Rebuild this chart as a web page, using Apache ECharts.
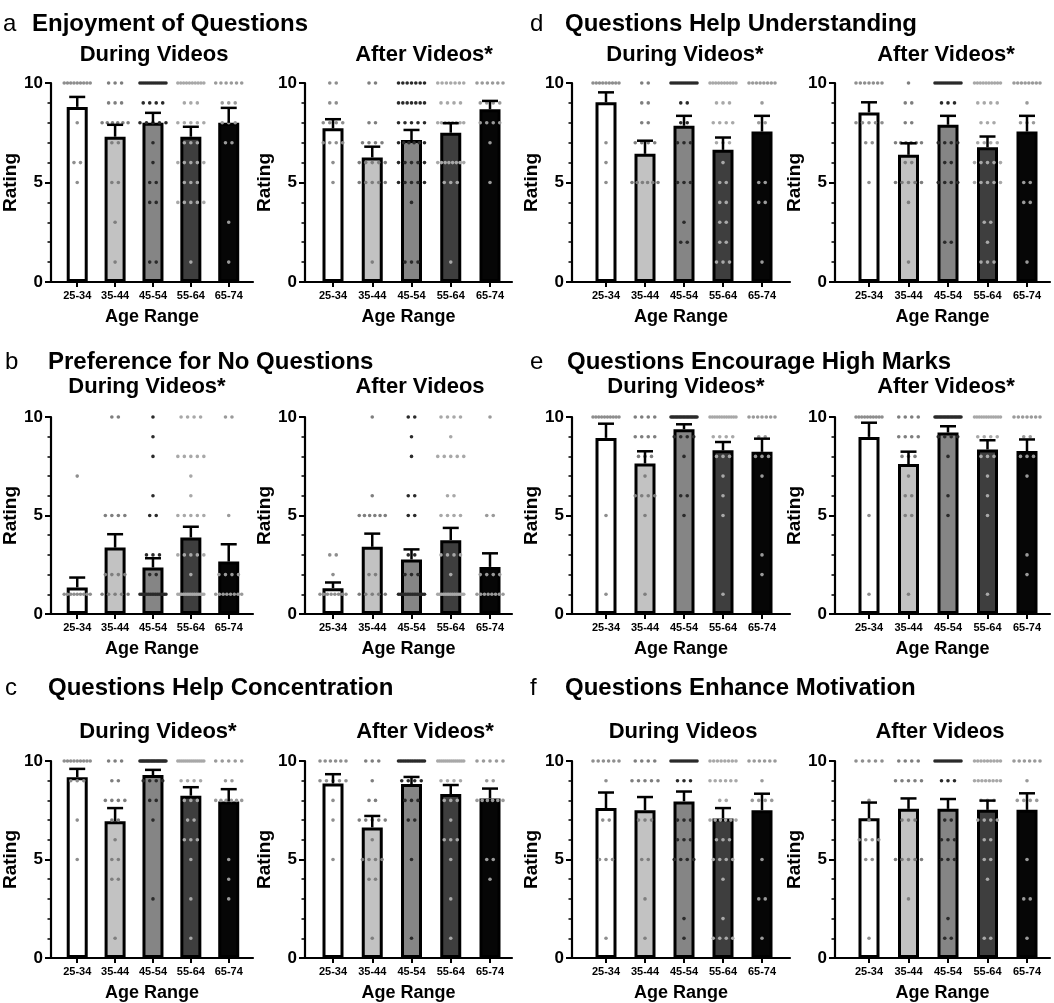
<!DOCTYPE html>
<html>
<head>
<meta charset="utf-8">
<script src="https://cdn.jsdelivr.net/npm/echarts@6/dist/echarts.min.js"></script>
<style>
  html, body { margin: 0; padding: 0; background: #fff; }
  #chart { width: 1054px; height: 1003px; }
</style>
</head>
<body>
<div id="chart"></div>
<script>
// ---- data: mean rating, SEM and individual responses ([rating, count]) per age group ----
const ageGroups = ['25-34', '35-44', '45-54', '55-64', '65-74'];

// a: Enjoyment of Questions
const enjoyDuringMean = [8.8, 7.3, 8.0, 7.3, 8.0];
const enjoyDuringSem = [0.5, 0.6, 0.5, 0.5, 0.75];
const enjoyDuringDots = [
  [[10, 9], [8, 1], [6, 2], [5, 1]],
  [[10, 3], [9, 3], [8, 6], [7, 2], [5, 2], [3, 1], [1, 1]],
  [[10, 14], [9, 4], [8, 5], [7, 1], [6, 1], [5, 2], [4, 2], [1, 2]],
  [[10, 10], [9, 3], [8, 5], [7, 3], [6, 5], [5, 3], [4, 5], [1, 1]],
  [[10, 6], [9, 3], [8, 3], [7, 2], [3, 1], [1, 1]]
];
const enjoyAfterMean = [7.72, 6.26, 7.13, 7.5, 8.68];
const enjoyAfterSem = [0.46, 0.54, 0.51, 0.48, 0.42];
const enjoyAfterDots = [
  [[10, 2], [9, 2], [8, 4], [7, 4], [6, 1], [5, 1]],
  [[10, 2], [8, 2], [7, 4], [6, 5], [5, 5], [1, 1]],
  [[10, 7], [9, 7], [8, 5], [7, 6], [6, 5], [5, 5], [4, 1], [1, 3]],
  [[10, 7], [9, 4], [8, 8], [6, 8], [5, 3], [1, 1]],
  [[10, 6], [9, 4], [8, 4], [7, 1], [5, 1]]
];

// b: Preference for No Questions
const prefNoQDuringMean = [1.35, 3.37, 2.36, 3.88, 2.66];
const prefNoQDuringSem = [0.5, 0.68, 0.47, 0.55, 0.88];
const prefNoQDuringDots = [
  [[7, 1], [1, 9]],
  [[10, 2], [5, 4], [2, 4], [1, 5]],
  [[10, 1], [9, 1], [8, 1], [6, 1], [5, 2], [3, 3], [2, 2], [1, 16]],
  [[10, 4], [8, 5], [7, 1], [6, 1], [5, 5], [3, 5], [2, 1], [1, 15]],
  [[10, 2], [5, 1], [2, 4], [1, 8]]
];
const prefNoQAfterMean = [1.31, 3.41, 2.77, 3.75, 2.39];
const prefNoQAfterSem = [0.29, 0.67, 0.51, 0.62, 0.69];
const prefNoQAfterDots = [
  [[3, 2], [2, 1], [1, 8]],
  [[10, 1], [6, 1], [5, 6], [2, 2], [1, 5]],
  [[10, 2], [9, 1], [8, 1], [6, 2], [5, 2], [3, 2], [2, 3], [1, 16]],
  [[10, 4], [9, 1], [8, 5], [6, 2], [5, 4], [3, 4], [2, 1], [1, 15]],
  [[10, 1], [5, 2], [2, 4], [1, 8]]
];

// c: Questions Help Concentration
const concentrationDuringMean = [9.18, 6.94, 9.29, 8.24, 7.95];
const concentrationDuringSem = [0.42, 0.67, 0.26, 0.43, 0.62];
const concentrationDuringDots = [
  [[10, 9], [9, 3], [7, 1], [5, 1]],
  [[10, 3], [9, 2], [8, 4], [7, 2], [6, 1], [5, 2], [4, 2], [1, 1]],
  [[10, 22], [9, 4], [8, 2], [7, 1], [3, 1]],
  [[10, 14], [9, 4], [8, 3], [7, 2], [6, 3], [5, 1], [3, 1], [1, 1]],
  [[10, 5], [9, 2], [8, 6], [5, 1], [4, 1], [3, 1]]
];
const concentrationAfterMean = [8.86, 6.63, 8.83, 8.32, 8.1];
const concentrationAfterSem = [0.47, 0.58, 0.36, 0.46, 0.5];
const concentrationAfterDots = [
  [[10, 6], [9, 5], [8, 1], [7, 1], [5, 1]],
  [[10, 3], [9, 1], [8, 2], [7, 5], [6, 1], [5, 4], [4, 2], [1, 1]],
  [[10, 16], [9, 4], [8, 3], [7, 2], [5, 1], [1, 1]],
  [[10, 14], [9, 4], [8, 3], [7, 1], [6, 3], [5, 1], [3, 1], [1, 1]],
  [[10, 5], [9, 2], [8, 6], [5, 2], [4, 1]]
];

// d: Questions Help Understanding
const understandingDuringMean = [9.03, 6.44, 7.85, 6.64, 7.56];
const understandingDuringSem = [0.5, 0.66, 0.5, 0.62, 0.79];
const understandingDuringDots = [
  [[10, 9], [7, 1], [6, 1], [5, 1]],
  [[10, 2], [9, 2], [8, 2], [7, 4], [5, 6]],
  [[10, 14], [9, 2], [8, 2], [7, 3], [5, 3], [3, 1], [2, 2]],
  [[10, 10], [9, 3], [8, 4], [7, 3], [6, 1], [5, 2], [4, 2], [3, 2], [2, 2], [1, 3]],
  [[10, 8], [9, 1], [8, 2], [5, 2], [4, 2], [1, 1]]
];
const understandingAfterMean = [8.52, 6.39, 7.9, 6.77, 7.56];
const understandingAfterSem = [0.51, 0.58, 0.45, 0.54, 0.79];
const understandingAfterDots = [
  [[10, 7], [8, 5], [7, 2], [5, 1]],
  [[10, 1], [9, 2], [8, 2], [7, 6], [6, 2], [5, 5], [4, 1], [1, 1]],
  [[10, 14], [9, 3], [7, 4], [6, 2], [5, 4], [2, 2]],
  [[10, 10], [9, 4], [8, 3], [7, 4], [6, 5], [5, 5], [3, 2], [2, 1], [1, 3]],
  [[10, 8], [9, 1], [8, 3], [5, 2], [4, 2], [1, 1]]
];

// e: Questions Encourage High Marks
const highMarksDuringMean = [8.94, 7.64, 9.38, 8.31, 8.23];
const highMarksDuringSem = [0.72, 0.62, 0.25, 0.42, 0.67];
const highMarksDuringDots = [
  [[10, 10], [5, 1], [1, 1]],
  [[10, 4], [9, 4], [8, 3], [7, 1], [6, 4], [5, 1], [1, 1]],
  [[10, 20], [9, 4], [8, 1], [6, 2], [5, 1]],
  [[10, 12], [9, 4], [8, 3], [7, 1], [6, 1], [5, 1], [1, 1]],
  [[10, 7], [9, 2], [8, 3], [7, 1], [3, 1], [2, 1]]
];
const highMarksAfterMean = [8.99, 7.61, 9.21, 8.35, 8.27];
const highMarksAfterSem = [0.72, 0.63, 0.32, 0.47, 0.59];
const highMarksAfterDots = [
  [[10, 10], [5, 1], [1, 1]],
  [[10, 4], [9, 4], [8, 3], [7, 1], [6, 2], [5, 2], [1, 1]],
  [[10, 20], [9, 4], [8, 1], [6, 1], [5, 1]],
  [[10, 12], [9, 4], [8, 3], [7, 1], [6, 1], [5, 1], [1, 1]],
  [[10, 7], [9, 2], [8, 3], [7, 1], [3, 1], [2, 1]]
];

// f: Questions Enhance Motivation
const motivationDuringMean = [7.61, 7.5, 7.95, 7.08, 7.5];
const motivationDuringSem = [0.79, 0.67, 0.5, 0.53, 0.84];
const motivationDuringDots = [
  [[10, 6], [9, 1], [7, 2], [5, 3], [1, 1]],
  [[10, 4], [9, 5], [7, 3], [5, 2], [3, 1], [1, 1]],
  [[10, 14], [9, 3], [7, 3], [6, 3], [5, 4], [2, 1], [1, 1]],
  [[10, 8], [9, 6], [8, 2], [7, 6], [6, 3], [5, 4], [4, 1], [2, 1], [1, 4]],
  [[10, 6], [9, 1], [8, 4], [5, 1], [3, 2], [1, 1]]
];
const motivationAfterMean = [7.1, 7.57, 7.57, 7.52, 7.52];
const motivationAfterSem = [0.79, 0.53, 0.5, 0.47, 0.84];
const motivationAfterDots = [
  [[10, 5], [8, 1], [7, 1], [6, 4], [5, 2], [1, 1]],
  [[10, 4], [9, 5], [7, 3], [5, 5], [3, 1]],
  [[10, 14], [9, 3], [7, 2], [6, 3], [5, 3], [2, 1], [1, 2]],
  [[10, 9], [9, 8], [8, 3], [7, 4], [6, 2], [5, 2], [4, 1], [1, 2]],
  [[10, 6], [9, 1], [8, 4], [5, 1], [3, 2], [1, 1]]
];

const ratingTicks = [0, 5, 10];

// ---- styling ----
const FONT = '"Liberation Sans", Arial, Helvetica, sans-serif';
const barFills = ['#ffffff', '#c2c2c2', '#858585', '#3e3e3e', '#060606'];
const dotFills = ['#8e8e8e', '#7e7e7e', '#2a2a2a', '#a8a8a8', '#9a9a9a'];

// pixel layout of the 4 columns x 3 rows of panels
const columns = [
  { axisX: 45, firstTick: 72, step: 39, endX: 253, nameGap: 25 },
  { axisX: 305, firstTick: 333, step: 39.25, endX: 512, nameGap: 23 },
  { axisX: 572, firstTick: 606, step: 39, endX: 790, nameGap: 22 },
  { axisX: 835, firstTick: 869, step: 39.5, endX: 1050, nameGap: 14 }
];
const rows = [
  { top: 83, bottom: 282, subY: 55 },
  { top: 417, bottom: 614, subY: 387 },
  { top: 761, bottom: 959, subY: 732 }
];

const panels = [
  { row: 0, col: 0, mean: enjoyDuringMean, sem: enjoyDuringSem, dots: enjoyDuringDots, sub: 'During Videos', subX: 154 },
  { row: 0, col: 1, mean: enjoyAfterMean, sem: enjoyAfterSem, dots: enjoyAfterDots, sub: 'After Videos*', subX: 424 },
  { row: 0, col: 2, mean: understandingDuringMean, sem: understandingDuringSem, dots: understandingDuringDots, sub: 'During Videos*', subX: 685 },
  { row: 0, col: 3, mean: understandingAfterMean, sem: understandingAfterSem, dots: understandingAfterDots, sub: 'After Videos*', subX: 946 },
  { row: 1, col: 0, mean: prefNoQDuringMean, sem: prefNoQDuringSem, dots: prefNoQDuringDots, sub: 'During Videos*', subX: 147 },
  { row: 1, col: 1, mean: prefNoQAfterMean, sem: prefNoQAfterSem, dots: prefNoQAfterDots, sub: 'After Videos', subX: 420 },
  { row: 1, col: 2, mean: highMarksDuringMean, sem: highMarksDuringSem, dots: highMarksDuringDots, sub: 'During Videos*', subX: 686 },
  { row: 1, col: 3, mean: highMarksAfterMean, sem: highMarksAfterSem, dots: highMarksAfterDots, sub: 'After Videos*', subX: 946 },
  { row: 2, col: 0, mean: concentrationDuringMean, sem: concentrationDuringSem, dots: concentrationDuringDots, sub: 'During Videos*', subX: 158 },
  { row: 2, col: 1, mean: concentrationAfterMean, sem: concentrationAfterSem, dots: concentrationAfterDots, sub: 'After Videos*', subX: 425 },
  { row: 2, col: 2, mean: motivationDuringMean, sem: motivationDuringSem, dots: motivationDuringDots, sub: 'During Videos', subX: 683 },
  { row: 2, col: 3, mean: motivationAfterMean, sem: motivationAfterSem, dots: motivationAfterDots, sub: 'After Videos', subX: 940 }
];

const headings = [
  { letter: 'a', text: 'Enjoyment of Questions', letterX: 3, textX: 32, y: 24 },
  { letter: 'd', text: 'Questions Help Understanding', letterX: 530, textX: 565, y: 24 },
  { letter: 'b', text: 'Preference for No Questions', letterX: 5, textX: 48, y: 362 },
  { letter: 'e', text: 'Questions Encourage High Marks', letterX: 530, textX: 567, y: 362 },
  { letter: 'c', text: 'Questions Help Concentration', letterX: 5, textX: 48, y: 688 },
  { letter: 'f', text: 'Questions Enhance Motivation', letterX: 530, textX: 565, y: 688 }
];

// ---- renderers ----
function renderDots(params, api) {
  const g = api.value(0), r = api.value(1), n = api.value(2);
  const c = api.coord([g, r]);
  const gap = n > 1 ? Math.min(6.5, 26 / (n - 1)) : 0;
  const children = [];
  for (let k = 0; k < n; k++) {
    children.push({
      type: 'circle',
      shape: { cx: c[0] + (k - (n - 1) / 2) * gap, cy: c[1], r: 1.8 },
      style: { fill: dotFills[g] }
    });
  }
  return { type: 'group', children };
}

function renderErrorBar(params, api) {
  const g = api.value(0), m = api.value(1), s = api.value(2);
  const base = api.coord([g, m]);
  const top = api.coord([g, m + s]);
  const st = { stroke: '#000', lineWidth: 2.5 };
  return {
    type: 'group',
    children: [
      { type: 'line', shape: { x1: base[0], y1: base[1], x2: top[0], y2: top[1] }, style: st },
      { type: 'line', shape: { x1: top[0] - 8, y1: top[1], x2: top[0] + 8, y2: top[1] }, style: st }
    ]
  };
}

// ---- assemble option ----
const grid = [], xAxis = [], yAxis = [], series = [], graphic = [];
const groupIdx = ageGroups.map((_, i) => i);

panels.forEach((p, k) => {
  const col = columns[p.col], row = rows[p.row];
  grid.push({
    left: col.axisX, top: row.top,
    width: col.endX - col.axisX, height: row.bottom - row.top
  });
  xAxis.push({
    gridIndex: k, type: 'value',
    min: (col.axisX - col.firstTick) / col.step,
    max: (col.endX - col.firstTick) / col.step,
    axisLine: { onZero: false, lineStyle: { color: '#000', width: 2.2 } },
    axisTick: { customValues: groupIdx, length: 5, lineStyle: { color: '#000', width: 2 } },
    axisLabel: {
      customValues: groupIdx, formatter: v => ageGroups[Math.round(v)],
      color: '#000', fontFamily: FONT, fontWeight: 'bold', fontSize: 11, margin: 8
    },
    splitLine: { show: false },
    name: 'Age Range', nameLocation: 'middle', nameGap: 26,
    nameTextStyle: { color: '#000', fontFamily: FONT, fontWeight: 'bold', fontSize: 18 }
  });
  yAxis.push({
    gridIndex: k, type: 'value', min: 0, max: 10, interval: 5,
    axisLine: { show: true, onZero: false, lineStyle: { color: '#000', width: 2.2 } },
    axisTick: { show: true, length: 6, lineStyle: { color: '#000', width: 2 } },
    minorTick: { show: true, splitNumber: 5, length: 3.5, lineStyle: { color: '#000', width: 1.5 } },
    axisLabel: {
      color: '#000', fontFamily: FONT, fontWeight: 'bold', fontSize: 17, margin: 8,
      formatter: v => (ratingTicks.includes(v) ? String(v) : '')
    },
    splitLine: { show: false },
    name: 'Rating', nameLocation: 'middle', nameRotate: 90, nameGap: col.nameGap + 6,
    nameTextStyle: { color: '#000', fontFamily: FONT, fontWeight: 'bold', fontSize: 19 }
  });

  series.push({
    type: 'bar', xAxisIndex: k, yAxisIndex: k, barWidth: 21, z: 2,
    itemStyle: { borderColor: '#000', borderWidth: 3 },
    data: p.mean.map((m, i) => ({ value: [i, m], itemStyle: { color: barFills[i] } }))
  });

  const dotData = [];
  p.dots.forEach((list, g) => list.forEach(([r, c]) => dotData.push([g, r, c])));
  series.push({
    type: 'custom', xAxisIndex: k, yAxisIndex: k, z: 3,
    encode: { x: 0, y: 1 }, renderItem: renderDots, data: dotData
  });

  series.push({
    type: 'custom', xAxisIndex: k, yAxisIndex: k, z: 4,
    encode: { x: 0, y: 1 }, renderItem: renderErrorBar,
    data: p.mean.map((m, i) => [i, m, p.sem[i]])
  });

  graphic.push({
    type: 'text', x: p.subX, y: row.subY,
    style: {
      text: p.sub, fill: '#000', font: 'bold 22px ' + FONT,
      textAlign: 'center', textVerticalAlign: 'middle'
    }
  });
});

headings.forEach(h => {
  graphic.push({
    type: 'text', x: h.letterX, y: h.y,
    style: { text: h.letter, fill: '#000', font: '24px ' + FONT, textVerticalAlign: 'middle' }
  });
  graphic.push({
    type: 'text', x: h.textX, y: h.y,
    style: { text: h.text, fill: '#000', font: 'bold 24px ' + FONT, textVerticalAlign: 'middle' }
  });
});

const chart = echarts.init(document.getElementById('chart'), null, { renderer: 'canvas' });
chart.setOption({
  animation: false,
  backgroundColor: '#fff',
  grid, xAxis, yAxis, series, graphic
});
</script>
</body>
</html>
